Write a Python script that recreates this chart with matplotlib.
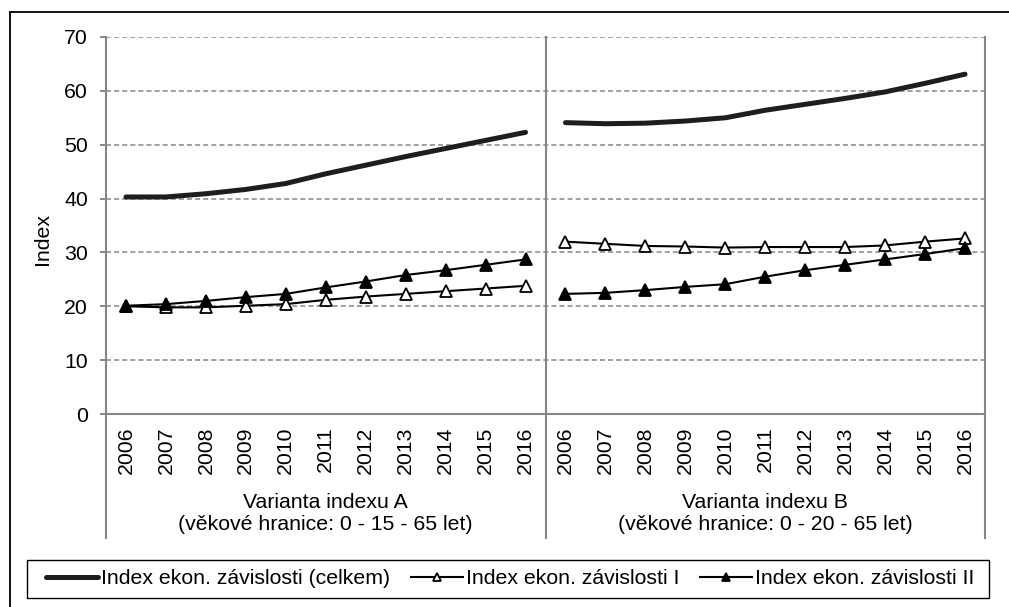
import numpy as np
from matplotlib import pyplot as plt
from matplotlib.lines import Line2D
from matplotlib.patches import Rectangle
import matplotlib.transforms as mtrans

plt.rcParams['font.family'] = ['Liberation Sans', 'DejaVu Sans']

## data
years = [2006, 2007, 2008, 2009, 2010, 2011, 2012, 2013, 2014, 2015, 2016]
groups = ['Varianta indexu A', 'Varianta indexu B']
group_notes = ['(věkové hranice: 0 - 15 - 65 let)', '(věkové hranice: 0 - 20 - 65 let)']

celkem_A = [40.3, 40.3, 40.9, 41.7, 42.8, 44.6, 46.2, 47.8, 49.3, 50.8, 52.3]
celkem_B = [54.1, 53.9, 54.0, 54.4, 55.0, 56.4, 57.5, 58.6, 59.8, 61.4, 63.1]
zav1_A = [20.0, 19.8, 19.8, 20.1, 20.4, 21.2, 21.8, 22.3, 22.8, 23.3, 23.8]
zav1_B = [32.0, 31.6, 31.2, 31.1, 30.9, 31.0, 31.0, 31.0, 31.3, 32.0, 32.6]
zav2_A = [20.1, 20.4, 21.0, 21.7, 22.3, 23.5, 24.6, 25.8, 26.7, 27.7, 28.7]
zav2_B = [22.3, 22.5, 23.0, 23.6, 24.1, 25.5, 26.7, 27.7, 28.7, 29.7, 30.8]

labels = ['Index ekon. závislosti (celkem)', 'Index ekon. závislosti I', 'Index ekon. závislosti II']

W, H = 1009, 607
FS = 15.3
grey = '#868686'

fig = plt.figure(figsize=(W/100, H/100), dpi=100)
ax = fig.add_axes([106/W, 1-414/H, 879/W, 377/H])

n = len(years)
xa = np.arange(n)
xb = np.arange(n) + n

for x, c, z1, z2 in [(xa, celkem_A, zav1_A, zav2_A), (xb, celkem_B, zav1_B, zav2_B)]:
    l0, = ax.plot(x, c, color='#1e1e1e', lw=3.6, solid_capstyle='round', zorder=3)
    l1, = ax.plot(x, z1, color='black', lw=1.5, marker='^', ms=9, mfc='white', mec='black', mew=1.3, zorder=4)
    l2, = ax.plot(x, z2, color='black', lw=1.5, marker='^', ms=9, mfc='black', mec='black', mew=1.3, zorder=5)

ax.set_xlim(-0.5, 2*n - 0.5)
ax.set_ylim(0, 70)
ax.set_yticks(np.arange(0, 71, 10))
ax.set_xticks(np.arange(2*n))
ax.set_xticklabels([str(y) for y in years] * 2, rotation=90, fontsize=FS)
ax.tick_params(axis='x', length=0, pad=9.0)
ax.tick_params(axis='y', length=4.3, width=1.4, color=grey, pad=8.6, labelsize=FS)

ax.yaxis.grid(True, color=grey, lw=1.1, linestyle=(0, (3.3, 2.0)))
ax.set_axisbelow(True)
for s in ['top', 'right', 'left']:
    ax.spines[s].set_visible(False)
ax.spines['bottom'].set_color(grey)
ax.spines['bottom'].set_linewidth(1.5)

# vertical separators running down through the category labels
trans = mtrans.blended_transform_factory(ax.transData, ax.transAxes)
ybot = (414 - 538) / 377
for xs in [-0.5, n - 0.5, 2*n - 0.5]:
    ax.add_line(Line2D([xs, xs], [ybot, 1], transform=trans, color=grey, lw=1.5, clip_on=False))

# group labels
for i in range(2):
    xc = i*n + (n - 1) / 2
    ax.text(xc, (414-502)/377, groups[i], transform=trans, ha='center', va='center', fontsize=FS)
    ax.text(xc, (414-524)/377, group_notes[i], transform=trans, ha='center', va='center', fontsize=FS)

fig.text(43/W, 1-239/H, 'Index', rotation=90, ha='center', va='center', fontsize=FS)

# legend with its own frame
fig.legend([l0, l1, l2], labels, loc='center', bbox_to_anchor=(510/W, 1-579/H), ncol=3,
           frameon=False, fontsize=FS, handlelength=2.45, handletextpad=0.12,
           columnspacing=1.0, markerscale=0.65)
fig.add_artist(Rectangle((27/W, 1-598/H), 962/W, 38/H, transform=fig.transFigure,
                         fill=False, ec='black', lw=1.0))

# outer chart border (cut at right and bottom)
fig.add_artist(Line2D([10/W, 1], [1-12/H, 1-12/H], transform=fig.transFigure, color='black', lw=1.3))
fig.add_artist(Line2D([10/W, 10/W], [0, 1-12/H], transform=fig.transFigure, color='black', lw=1.3))

fig.savefig('out.png', dpi=100)
